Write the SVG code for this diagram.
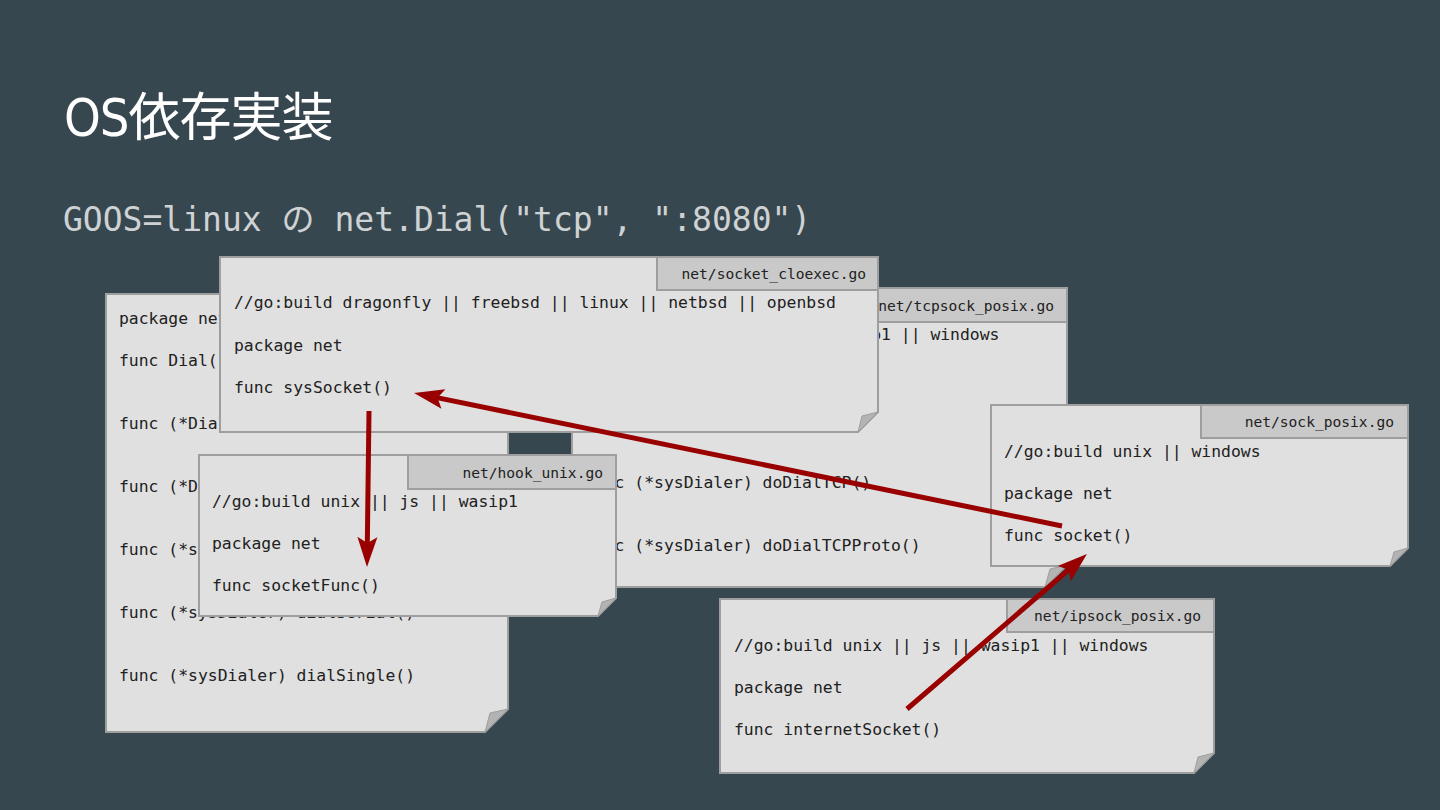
<svg xmlns="http://www.w3.org/2000/svg" width="1440" height="810" viewBox="0 0 1440 810">
<defs>
<style>
.doc{fill:#e0e0e0;stroke:#9e9e9e;stroke-width:2}
.tab{fill:#c9c9c9;stroke:#9e9e9e;stroke-width:2}
.fold{fill:#b3b3b3;stroke:#9e9e9e;stroke-width:1}
.code{font-family:"DejaVu Sans Mono","Liberation Mono",monospace;font-size:16.4px;fill:#212121}
.lbl{font-family:"DejaVu Sans Mono","Liberation Mono",monospace;font-size:14.6px;fill:#212121;text-anchor:end}
.arrow{fill:none;stroke:#990000;stroke-width:5;marker-end:url(#ah)}
</style>
<marker id="ah" markerUnits="userSpaceOnUse" markerWidth="30" markerHeight="20" refX="8" refY="10" orient="auto" overflow="visible">
<path d="M0,0 L30,10 L0,20 L6,10 Z" fill="#990000"/>
</marker>
</defs>
<rect x="0" y="0" width="1440" height="810" fill="#37474f"/>
<text x="64" y="136" font-size="52" fill="#ffffff" font-family="'DejaVu Sans Condensed','Noto Sans CJK JP',sans-serif" letter-spacing="-1">OS依存実装</text>
<text x="63" y="231" font-size="33" fill="#cfd2d4" font-family="'DejaVu Sans Mono','Noto Sans CJK JP',monospace">GOOS=linux の net.Dial("tcp", ":8080")</text>

<g id="doc-dial">
<path class="doc" d="M106,294 H508 V709 L485,732 H106 Z"/>
<polygon class="fold" points="485,732 508,709 490,713"/>
<text class="code" x="119" y="324">package net</text>
<text class="code" x="119" y="366">func Dial()</text>
<text class="code" x="119" y="429">func (*Dialer) Dial()</text>
<text class="code" x="119" y="492">func (*D</text>
<text class="code" x="119" y="555">func (*s</text>
<text class="code" x="119" y="618">func (*sysDialer) dialSerial()</text>
<text class="code" x="119" y="681">func (*sysDialer) dialSingle()</text>
</g>

<g id="doc-tcpsock-posix">
<path class="doc" d="M572,288 H1067 V565 L1045,587 H572 Z"/>
<polygon class="fold" points="1045,587 1067,565 1050,569"/>
<rect class="tab" x="856" y="288" width="211" height="34"/>
<text class="lbl" x="1054" y="311">net/tcpsock_posix.go</text>
<text class="code" x="585" y="340">//go:build unix || js || wasip1 || windows</text>
<text class="code" x="585" y="382">package net</text>
<text class="code" x="585" y="488">func (*sysDialer) doDialTCP()</text>
<text class="code" x="585" y="551">func (*sysDialer) doDialTCPProto()</text>
</g>

<g id="doc-socket-cloexec">
<path class="doc" d="M220,257 H878 V412 L858,432 H220 Z"/>
<polygon class="fold" points="858,432 878,412 862,416"/>
<rect class="tab" x="657" y="257" width="221" height="33"/>
<text class="lbl" x="866" y="279">net/socket_cloexec.go</text>
<text class="code" x="234" y="308">//go:build dragonfly || freebsd || linux || netbsd || openbsd</text>
<text class="code" x="234" y="351">package net</text>
<text class="code" x="234" y="393">func sysSocket()</text>
</g>

<g id="doc-hook-unix">
<path class="doc" d="M199,455 H616 V598 L598,616 H199 Z"/>
<polygon class="fold" points="598,616 616,598 602,602"/>
<rect class="tab" x="408" y="455" width="208" height="34"/>
<text class="lbl" x="603" y="478">net/hook_unix.go</text>
<text class="code" x="212" y="507">//go:build unix || js || wasip1</text>
<text class="code" x="212" y="549">package net</text>
<text class="code" x="212" y="591">func socketFunc()</text>
</g>

<g id="doc-sock-posix">
<path class="doc" d="M991,405 H1408 V548 L1390,566 H991 Z"/>
<polygon class="fold" points="1390,566 1408,548 1394,552"/>
<rect class="tab" x="1201" y="405" width="207" height="33"/>
<text class="lbl" x="1394" y="427">net/sock_posix.go</text>
<text class="code" x="1004" y="457">//go:build unix || windows</text>
<text class="code" x="1004" y="499">package net</text>
<text class="code" x="1004" y="541">func socket()</text>
</g>

<g id="doc-ipsock-posix">
<path class="doc" d="M720,599 H1214 V753 L1194,773 H720 Z"/>
<polygon class="fold" points="1194,773 1214,753 1198,757"/>
<rect class="tab" x="1007" y="599" width="207" height="33"/>
<text class="lbl" x="1201" y="621">net/ipsock_posix.go</text>
<text class="code" x="734" y="651">//go:build unix || js || wasip1 || windows</text>
<text class="code" x="734" y="693">package net</text>
<text class="code" x="734" y="735">func internetSocket()</text>
</g>

<g id="connectors">
<line class="arrow" x1="369" y1="411" x2="367.3" y2="545"/>
<line class="arrow" x1="1062" y1="526" x2="435.6" y2="397.4"/>
<line class="arrow" x1="907" y1="709" x2="1070.3" y2="568.4"/>
</g>
</svg>
